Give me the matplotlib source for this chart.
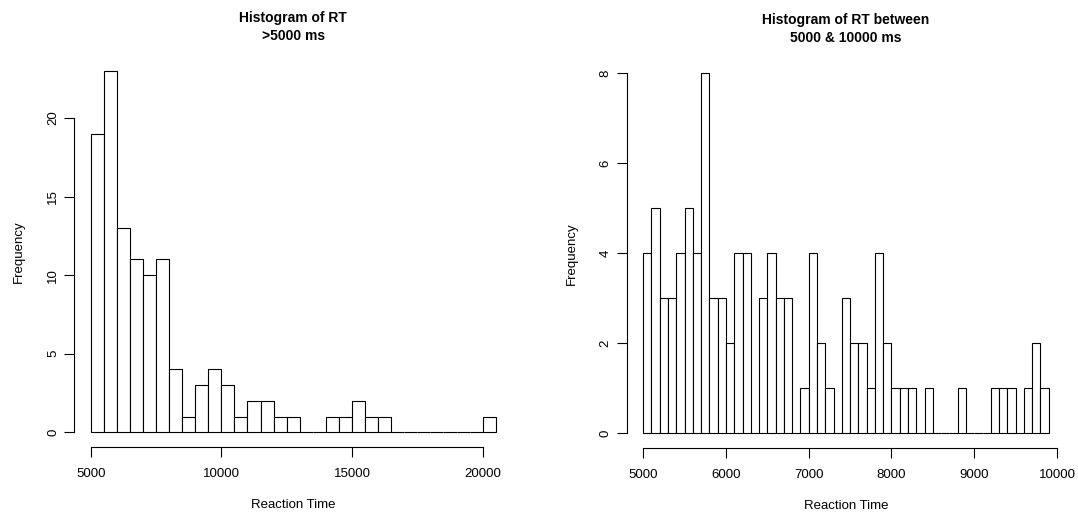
import numpy as np
from matplotlib import pyplot as plt

# counts (R style hist output)
left_start, left_binw = 5000, 500
left_counts = [19, 23, 13, 11, 10, 11, 4, 1, 3, 4, 3, 1, 2, 2, 1, 1, 0, 0,
               1, 1, 2, 1, 1, 0, 0, 0, 0, 0, 0, 0, 1]
left_xticks = [5000, 10000, 15000, 20000]
left_yticks = [0, 5, 10, 15, 20]

right_start, right_binw = 5000, 100
right_counts = [4, 5, 3, 3, 4, 5, 4, 8, 3, 3,
                2, 4, 4, 0, 3, 4, 3, 3, 0, 1,
                4, 2, 1, 0, 3, 2, 2, 1, 4, 2,
                1, 1, 1, 0, 1, 0, 0, 0, 1, 0,
                0, 0, 1, 1, 1, 0, 1, 2, 1]
right_xticks = [5000, 6000, 7000, 8000, 9000, 10000]
right_yticks = [0, 2, 4, 6, 8]

plt.rcParams['font.family'] = ['Liberation Sans', 'DejaVu Sans']


def r_hist(ax, start, binw, counts, xticks, yticks, title):
    edges = start + binw * np.arange(len(counts))
    ax.bar(edges, counts, width=binw, align='edge', color='white',
           edgecolor='black', linewidth=0.8)
    # R style: pad the range by 4%, axes not boxed
    x0, x1 = start, start + binw * len(counts)
    dx = (x1 - x0) * 0.04
    ax.set_xlim(x0 - dx, x1 + dx)
    ymax = max(counts)
    ax.set_ylim(-ymax * 0.04, ymax * 1.04)
    for s in ['top', 'right']:
        ax.spines[s].set_visible(False)
    ax.spines['bottom'].set_bounds(xticks[0], xticks[-1])
    ax.spines['left'].set_bounds(yticks[0], yticks[-1])
    for s in ['bottom', 'left']:
        ax.spines[s].set_linewidth(0.8)
    ax.set_xticks(xticks)
    ax.set_yticks(yticks)
    ax.tick_params(direction='out', length=7, width=0.8, labelsize=9.5)
    ax.tick_params(axis='x', pad=8)
    ax.tick_params(axis='y', pad=4)
    for lab in ax.get_yticklabels():
        lab.set_rotation(90)
        lab.set_va('center')
    ax.set_xlabel('Reaction Time', fontsize=9.5, labelpad=14)
    ax.set_ylabel('Frequency', fontsize=9.5, labelpad=16)
    ax.set_title(title, fontsize=10, fontweight='bold', pad=12,
                 linespacing=1.35)


fig = plt.figure(figsize=(10.78, 5.14), dpi=100)
ax1 = fig.add_axes([0.0691, 0.1307, 0.4058, 0.7597])
ax2 = fig.add_axes([0.5816, 0.129, 0.4063, 0.7568])

r_hist(ax1, left_start, left_binw, left_counts, left_xticks, left_yticks,
       'Histogram of RT\n>5000 ms')
r_hist(ax2, right_start, right_binw, right_counts, right_xticks, right_yticks,
       'Histogram of RT between\n5000 & 10000 ms')

fig.savefig('out.png', dpi=100)
